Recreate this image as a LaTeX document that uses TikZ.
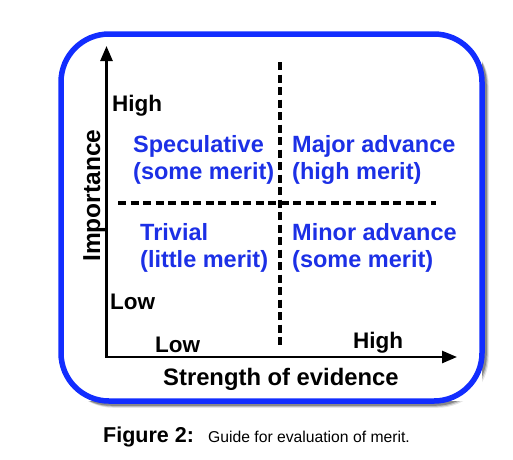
\documentclass[tikz,border=0pt]{standalone}
\usepackage{fontspec}
\setmainfont{Liberation Sans}
\usetikzlibrary{arrows.meta}
\definecolor{framecol}{RGB}{18,45,255}
\definecolor{txtblue}{RGB}{28,48,230}
\begin{document}
\begin{tikzpicture}[x=1pt,y=-1pt,
  bluetxt/.style={anchor=base west,inner sep=0pt,text=txtblue,font=\fontsize{23.5}{28}\selectfont\bfseries},
  axtxt/.style={anchor=base west,inner sep=0pt,font=\fontsize{22.5}{27}\selectfont\bfseries},
  axisline/.style={line width=2.6pt,{Triangle[length=15pt,width=12pt]}-{Triangle[length=15pt,width=12pt]}},
  divider/.style={line width=3.6pt,dash pattern=on 8pt off 4.5pt},
  frame/.style={line width=5.5pt,draw=framecol,rounded corners=48pt}]
\useasboundingbox (0,0) rectangle (513,459);
% shadow
\foreach \o/\op in {4/0.1,3/0.18,2/0.28}{
  \draw[line width=5.5pt,draw=black,opacity=\op,rounded corners=48pt] (61+\o,34+\o) rectangle (482+\o,401+\o);
}
\fill[white] (61,34) rectangle (482,401);
\draw[frame] (61,34) rectangle (482,401);
% axes
\coordinate (ytop) at (106.5,46);
\coordinate (origin) at (106.5,357);
\coordinate (xend) at (457,357);
\draw[axisline] (ytop) -- (origin) -- (xend);
% dividers
\coordinate (vtop) at (280,62);
\coordinate (vbot) at (280,348);
\coordinate (hleft) at (118,203);
\coordinate (hright) at (436,203);
\draw[divider] (vtop) -- (vbot);
\draw[divider] (hleft) -- (hright);
% quadrant texts
\node[bluetxt] (spec) at (133,152) {Speculative};
\node[bluetxt] (specm) at (133,179) {(some merit)};
\node[bluetxt] (major) at (292,152) {Major advance};
\node[bluetxt] (majorm) at (292,179) {(high merit)};
\node[bluetxt] (triv) at (140,240) {Trivial};
\node[bluetxt] (trivm) at (140,267) {(little merit)};
\node[bluetxt] (minor) at (292,240) {Minor advance};
\node[bluetxt] (minorm) at (292,267) {(some merit)};
% axis labels
\node[axtxt] (yhigh) at (112,111) {High};
\node[axtxt] (ylow) at (110,309) {Low};
\node[axtxt] (xlow) at (155,352) {Low};
\node[axtxt] (xhigh) at (353,348) {High};
\node[axtxt,font=\fontsize{23.8}{28}\selectfont\bfseries] (xlab) at (163,385) {Strength of evidence};
\node[axtxt,font=\fontsize{24.5}{29}\selectfont\bfseries,rotate=90] (ylab) at (100,262) {Importance};
% caption
\node[anchor=base west,inner sep=0pt,font=\fontsize{21.5}{25}\selectfont\bfseries] (figno) at (103,442) {Figure 2:};
\node[anchor=base west,inner sep=0pt,font=\fontsize{15.7}{19}\selectfont] (capt) at (208,442) {Guide for evaluation of merit.};
\end{tikzpicture}
\end{document}
